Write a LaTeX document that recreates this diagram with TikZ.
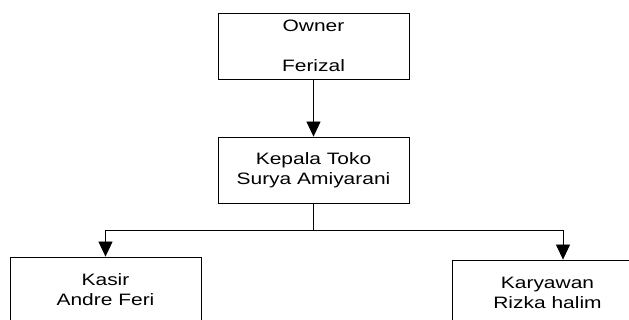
\documentclass[tikz,border=0pt]{standalone}
\usepackage{fontspec}
\setmainfont[FakeStretch=1.27]{Liberation Sans}
\usetikzlibrary{arrows.meta}

\begin{document}
\begin{tikzpicture}[x=1pt,y=-1pt,
    box/.style={draw,
    line width=0.8pt,
    minimum width=191pt,
    minimum height=66pt,
    inner sep=0pt,
    align=center,
    font=\fontsize{16.5}{20}\selectfont},
    arr/.style={line width=0.8pt,-{Triangle[width=14pt,length=15pt]}}]
    \useasboundingbox (0,0) rectangle (629,320);
    \clip (0,0) rectangle (629,320);
    \node [box] (owner) at (313.5,46) {Owner\\ \\Ferizal};
    \node [box] (kepala) at (313.5,170) {Kepala Toko\\Surya Amiyarani};
    \node [box] (kasir) at (105.5,290) {Kasir\\Andre Feri};
    \node [box] (karyawan) at (547.5,293) {Karyawan\\Rizka halim};
    \coordinate (split) at (313.5,230);
    \draw[arr] (owner.south) -- (kepala.north);
    \draw[line width=0.8pt] (kepala.south) -- (split);
    \draw[arr] (split) -| (kasir.north);
    \draw[arr] (split) -| ([xshift=15.5pt]karyawan.north);
\end{tikzpicture}
\end{document}
